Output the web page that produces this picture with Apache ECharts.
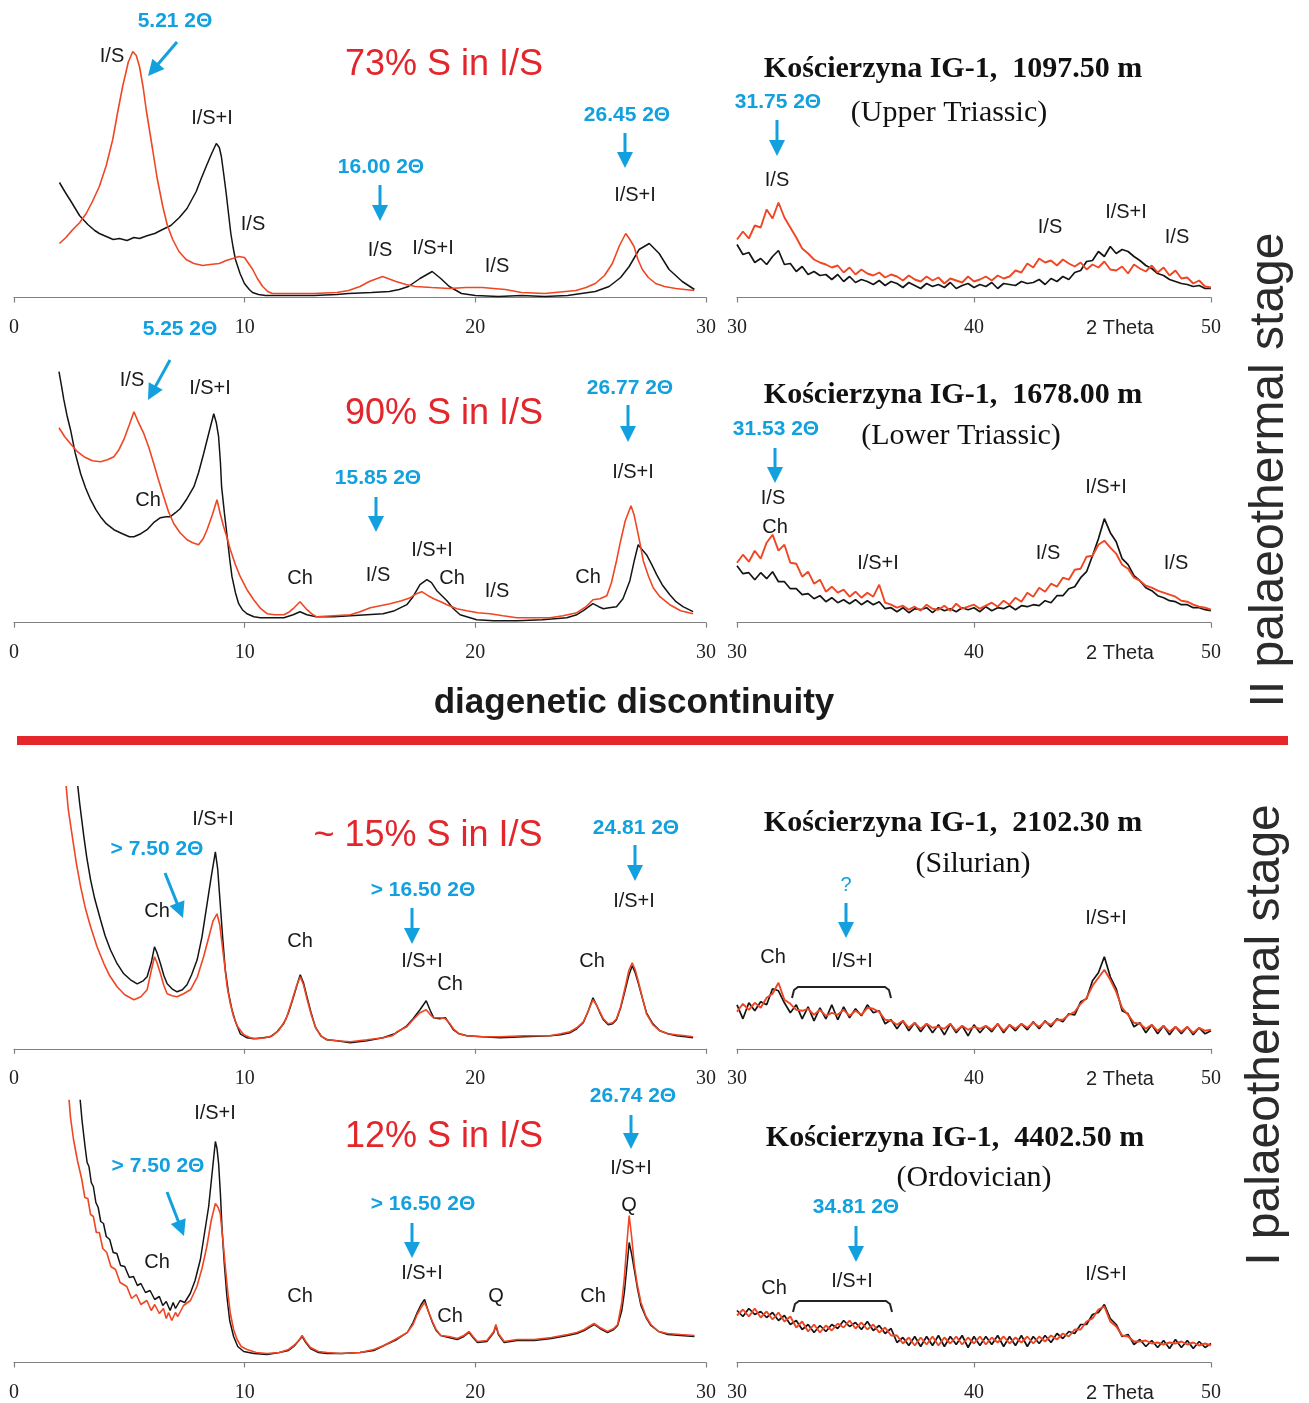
<!DOCTYPE html>
<html>
<head>
<meta charset="utf-8">
<script src="https://cdn.jsdelivr.net/npm/echarts@6/dist/echarts.min.js"></script>
<style>
  html, body { margin: 0; padding: 0; background: #fff; }
  #chart { width: 1309px; height: 1403px; }
</style>
</head>
<body>
<div id="chart"></div>
<script>
// ---- data: intensity (arbitrary units), [2theta, counts] ----
const L1k = [[1.97,115],[2.2,106],[2.5,95],[2.84,82],[3.2,73],[3.5,67],[3.7,64],[4.0,61],[4.3,58],[4.57,59],[4.9,57],[5.2,60],[5.44,59],[5.8,62],[6.1,64],[6.44,68],[6.8,72],[7.17,80],[7.5,89],[7.9,106],[8.1,118],[8.33,131],[8.55,143],[8.77,154],[8.9,150],[8.99,141],[9.1,122],[9.2,104],[9.3,84],[9.4,64],[9.5,50],[9.6,38],[9.8,24],[9.99,14],[10.2,8],[10.34,5],[10.6,3],[10.9,2],[12,2],[13,2],[14,3],[14.5,4],[15.5,5],[16.27,6],[16.7,8],[17.1,11],[17.6,19],[18.13,26],[18.5,19],[18.87,11],[19.4,4],[20,2],[21,1],[22,2],[23,1],[24,2],[24.6,4],[25.2,6],[25.8,11],[26.3,20],[26.67,31],[27.1,48],[27.54,54],[27.97,44],[28.4,28],[28.97,16],[29.5,8]];
const L1r = [[1.97,54],[2.25,60],[2.55,68],[2.85,75],[3.13,84],[3.4,96],[3.7,111],[4.0,132],[4.28,158],[4.5,186],[4.71,211],[4.95,235],[5.15,246],[5.3,242],[5.44,231],[5.6,210],[5.73,188],[5.87,168],[6.01,148],[6.2,120],[6.45,91],[6.65,72],[6.88,58],[7.15,46],[7.46,38],[7.8,34],[8.18,32],[8.5,33],[8.9,34],[9.2,37],[9.48,39],[9.75,41],[9.99,40],[10.2,33],[10.35,28],[10.55,19],[10.78,11],[11.0,6],[11.2,4],[12,4],[13,4],[14,5],[14.5,7],[15.0,11],[15.4,16],[15.98,21],[16.56,16],[17.0,13],[17.4,11],[18.1,10],[18.87,9],[19.6,10],[20.3,10],[20.8,9],[21.3,8],[22.0,5],[23,4],[24.36,7],[24.8,10],[25.2,14],[25.6,22],[25.94,34],[26.25,52],[26.52,64],[26.7,58],[26.88,51],[27.05,38],[27.24,28],[27.5,20],[27.82,14],[28.2,11],[28.69,9],[29.48,7]];

const L2k = [[1.95,251],[2.05,238],[2.16,223],[2.3,207],[2.45,193],[2.65,170],[2.89,149],[3.1,135],[3.32,123],[3.55,113],[3.75,106],[4.0,99],[4.33,93],[4.7,89],[5.0,86],[5.2,86],[5.5,89],[5.77,93],[6.05,100],[6.35,105],[6.6,106],[6.78,106],[7.0,110],[7.2,114],[7.5,124],[7.8,136],[8.0,150],[8.22,169],[8.45,190],[8.66,209],[8.77,200],[8.87,186],[8.95,160],[9.0,136],[9.12,110],[9.24,86],[9.35,64],[9.45,46],[9.6,30],[9.74,19],[9.9,13],[10.1,9],[10.4,6],[10.68,5],[11.2,5],[11.7,5],[12.1,8],[12.4,11],[12.7,8],[13.1,6],[13.85,6],[14.58,7],[15.3,8],[16.0,9],[16.5,12],[17.03,18],[17.3,26],[17.6,38],[17.9,43],[18.1,40],[18.33,32],[18.55,27],[18.77,22],[19.05,14],[19.34,8],[20.06,3],[20.8,2],[21.8,2],[22.9,3],[23.96,5],[24.4,8],[24.68,12],[25.1,19],[25.35,16],[25.55,14],[25.8,15],[26.12,16],[26.4,24],[26.7,42],[26.9,63],[27.06,78],[27.2,74],[27.42,68],[27.65,58],[27.86,48],[28.1,38],[28.43,28],[28.7,21],[29.0,16],[29.44,11]];
const L2r = [[1.95,195],[2.2,186],[2.45,179],[2.75,171],[3.03,166],[3.4,162],[3.75,161],[4.05,163],[4.33,166],[4.55,173],[4.76,183],[5.0,198],[5.2,211],[5.4,200],[5.63,189],[5.85,175],[6.06,159],[6.25,144],[6.49,126],[6.7,111],[6.93,99],[7.2,90],[7.5,83],[7.75,80],[8.0,78],[8.2,84],[8.37,93],[8.6,108],[8.8,123],[8.95,108],[9.09,96],[9.25,84],[9.38,73],[9.6,58],[9.81,46],[10.1,33],[10.39,23],[10.7,14],[10.97,9],[11.3,8],[11.7,8],[11.95,11],[12.1,14],[12.4,21],[12.55,17],[12.7,13],[12.9,9],[13.1,6],[13.85,7],[14.58,8],[15.0,11],[15.45,15],[16.3,19],[16.8,22],[17.18,25],[17.45,29],[17.68,31],[17.95,27],[18.2,24],[18.5,21],[18.77,18],[19.2,14],[19.63,12],[20.1,10],[20.64,9],[21.2,7],[21.8,5],[22.5,5],[23.24,5],[23.8,7],[24.4,10],[24.8,16],[25.1,23],[25.4,24],[25.7,27],[25.9,40],[26.12,62],[26.3,82],[26.5,102],[26.75,117],[26.88,108],[27.0,95],[27.15,78],[27.28,62],[27.5,47],[27.71,35],[28.0,26],[28.43,18],[28.9,12],[29.44,9]];

const L3k = [[2.74,268],[2.85,245],[3.03,212],[3.15,192],[3.32,169],[3.5,150],[3.75,129],[3.95,113],[4.18,99],[4.45,86],[4.76,75],[5.05,69],[5.34,65],[5.6,68],[5.77,72],[5.95,86],[6.09,102],[6.2,96],[6.35,85],[6.5,73],[6.64,65],[6.85,60],[7.07,57],[7.3,59],[7.5,64],[7.7,74],[7.94,89],[8.15,112],[8.37,145],[8.55,172],[8.73,197],[8.83,180],[8.95,142],[9.05,110],[9.16,79],[9.3,56],[9.45,39],[9.6,27],[9.81,15],[10.1,11],[10.39,10],[10.8,11],[11.11,12],[11.4,17],[11.69,25],[11.9,36],[12.12,52],[12.3,66],[12.41,74],[12.55,66],[12.7,52],[12.88,36],[13.06,22],[13.3,13],[13.56,9],[14.0,8],[14.58,6],[15.3,8],[16.0,11],[16.5,15],[17.03,23],[17.3,30],[17.6,39],[17.87,48],[18.05,38],[18.2,31],[18.45,30],[18.7,31],[18.88,25],[19.05,19],[19.3,15],[19.63,13],[20.3,12],[21.07,11],[22.1,12],[23.24,13],[23.7,14],[24.1,16],[24.4,20],[24.68,26],[24.9,38],[25.1,51],[25.25,44],[25.4,36],[25.55,29],[25.76,24],[25.95,25],[26.12,29],[26.3,41],[26.5,59],[26.65,73],[26.8,83],[26.93,76],[27.06,66],[27.25,50],[27.42,36],[27.7,25],[28.0,18],[28.35,15],[28.72,13],[29.1,12],[29.44,11]];
const L3r = [[2.24,268],[2.35,240],[2.53,212],[2.7,186],[2.89,162],[3.1,140],[3.32,122],[3.6,102],[3.9,85],[4.15,73],[4.47,62],[4.8,54],[5.2,49],[5.5,52],[5.77,59],[5.95,78],[6.09,92],[6.2,86],[6.35,75],[6.5,63],[6.64,55],[6.85,53],[7.07,52],[7.35,55],[7.65,59],[7.95,72],[8.22,92],[8.45,112],[8.63,128],[8.8,135],[8.92,124],[9.02,105],[9.13,84],[9.24,62],[9.38,45],[9.52,32],[9.7,22],[9.96,14],[10.25,11],[10.53,10],[10.9,11],[11.2,13],[11.5,19],[11.8,30],[12.05,48],[12.25,63],[12.41,72],[12.55,64],[12.7,50],[12.9,33],[13.1,20],[13.35,12],[13.6,9],[14.0,8],[14.58,7],[15.3,9],[16.0,11],[16.4,13],[16.6,17],[17.03,22],[17.3,29],[17.6,36],[17.87,39],[18.05,34],[18.2,31],[18.45,31],[18.7,30],[18.9,25],[19.05,20],[19.3,15],[19.63,13],[20.3,12],[21.07,12],[22.1,13],[23.24,13],[23.7,15],[24.1,17],[24.4,21],[24.68,27],[24.9,38],[25.1,49],[25.25,44],[25.4,37],[25.55,30],[25.76,25],[25.95,26],[26.12,30],[26.3,42],[26.5,62],[26.65,78],[26.8,86],[26.93,79],[27.06,68],[27.25,50],[27.42,35],[27.7,24],[28.0,18],[28.35,15],[28.72,14],[29.1,13],[29.44,12]];

const L4k = [[2.84,270],[2.95,242],[3.08,216],[3.17,200],[3.25,196],[3.35,180],[3.44,176],[3.55,160],[3.65,155],[3.76,141],[3.88,139],[4.0,126],[4.15,123],[4.3,110],[4.46,109],[4.62,97],[4.8,96],[5.0,85],[5.18,86],[5.35,77],[5.5,79],[5.7,70],[5.9,72],[6.1,63],[6.3,66],[6.45,57],[6.6,61],[6.77,52],[6.9,60],[7.0,54],[7.2,62],[7.4,60],[7.64,69],[7.85,82],[8.08,103],[8.25,128],[8.44,156],[8.6,192],[8.73,221],[8.8,214],[8.87,199],[8.95,168],[9.02,133],[9.12,98],[9.23,66],[9.35,42],[9.52,26],[9.7,16],[9.96,11],[10.4,9],[10.97,8],[11.5,10],[11.9,12],[12.13,16],[12.35,22],[12.49,26],[12.65,20],[12.85,14],[13.2,10],[13.57,9],[14.2,9],[15.0,10],[15.6,12],[16.04,17],[16.6,23],[17.05,30],[17.3,40],[17.48,50],[17.65,58],[17.8,63],[17.95,52],[18.14,40],[18.3,32],[18.5,27],[18.85,25],[19.22,23],[19.5,26],[19.73,30],[19.9,25],[20.09,20],[20.5,21],[20.8,30],[20.89,37],[21.0,28],[21.25,20],[21.8,22],[22.55,22],[23.3,24],[24.0,27],[24.4,29],[24.72,32],[25.0,36],[25.15,38],[25.4,34],[25.73,30],[26.0,33],[26.17,37],[26.35,52],[26.46,70],[26.58,98],[26.67,120],[26.78,108],[26.89,93],[27.02,75],[27.18,57],[27.4,45],[27.61,37],[27.95,31],[28.34,28],[28.9,27],[29.5,26]];
const L4r = [[2.36,270],[2.45,245],[2.58,223],[2.75,202],[2.94,183],[3.07,165],[3.2,164],[3.32,148],[3.44,146],[3.57,130],[3.7,130],[3.85,114],[4.02,110],[4.2,96],[4.4,93],[4.6,80],[4.89,76],[5.1,64],[5.3,68],[5.5,58],[5.76,62],[5.95,52],[6.1,58],[6.3,49],[6.48,54],[6.6,44],[6.7,50],[6.84,42],[7.0,50],[7.1,46],[7.35,57],[7.65,62],[7.93,76],[8.15,94],[8.36,116],[8.55,142],[8.73,159],[8.85,155],[8.94,149],[9.05,124],[9.16,96],[9.27,70],[9.38,49],[9.52,33],[9.67,23],[9.85,16],[10.1,13],[10.5,10],[10.97,9],[11.5,10],[11.9,13],[12.13,17],[12.35,22],[12.49,27],[12.65,21],[12.85,15],[13.2,11],[13.57,10],[14.2,9],[15.0,10],[15.6,13],[16.04,17],[16.6,24],[17.05,30],[17.3,38],[17.48,48],[17.65,55],[17.8,60],[17.95,52],[18.14,41],[18.3,33],[18.5,27],[18.85,26],[19.22,24],[19.5,27],[19.73,31],[19.9,26],[20.09,21],[20.5,22],[20.8,31],[20.89,38],[21.0,29],[21.25,21],[21.8,23],[22.55,23],[23.3,25],[24.0,28],[24.4,30],[24.72,33],[25.0,37],[25.15,39],[25.4,35],[25.73,31],[26.0,34],[26.17,38],[26.35,60],[26.46,85],[26.58,122],[26.67,147],[26.78,125],[26.89,98],[27.02,78],[27.18,60],[27.4,46],[27.61,38],[27.95,31],[28.34,29],[28.9,28],[29.5,27]];

// right panels (30-50 deg), one value per 0.25 deg
const thetaR = [30,30.25,30.5,30.75,31,31.25,31.5,31.75,32,32.25,32.5,32.75,33,33.25,33.5,33.75,34,34.25,34.5,34.75,35,35.25,35.5,35.75,36,36.25,36.5,36.75,37,37.25,37.5,37.75,38,38.25,38.5,38.75,39,39.25,39.5,39.75,40,40.25,40.5,40.75,41,41.25,41.5,41.75,42,42.25,42.5,42.75,43,43.25,43.5,43.75,44,44.25,44.5,44.75,45,45.25,45.5,45.75,46,46.25,46.5,46.75,47,47.25,47.5,47.75,48,48.25,48.5,48.75,49,49.25,49.5,49.75,50];
const R1r = [58,66,59,72,70,88,79,95,80,70,60,49,44,38,35,33,30,32,25,30,23,28,24,22,25,20,23,21,17,22,18,16,21,17,20,14,19,17,15,21,16,18,21,17,22,19,21,27,25,34,30,39,35,37,32,38,34,31,35,28,33,30,36,28,27,31,24,33,29,26,32,25,30,22,27,19,20,14,17,11,10];
const R1k = [53,43,45,35,39,33,41,47,33,34,26,31,23,26,22,23,18,23,16,21,15,18,16,13,17,12,16,14,10,15,12,9,14,11,13,10,15,9,12,14,10,13,11,15,9,14,13,12,16,14,15,18,13,19,16,21,18,25,27,36,37,46,41,51,44,48,46,41,37,32,29,24,22,18,16,14,13,11,12,9,9];
const R2r = [60,68,61,72,64,80,88,72,78,60,59,46,51,39,43,31,36,30,33,26,31,25,30,26,38,20,18,15,17,13,16,12,18,14,13,17,12,19,14,16,18,14,17,20,16,22,18,25,21,30,26,35,31,39,36,45,43,53,54,66,67,78,82,75,69,58,54,45,42,37,35,32,30,28,26,22,21,18,16,15,13];
const R2k = [57,49,50,43,50,44,51,41,41,34,34,28,29,24,27,21,25,20,23,19,23,18,22,18,21,14,15,11,15,10,14,13,15,10,15,12,14,11,15,13,15,11,16,12,15,14,17,13,17,16,18,17,22,20,27,27,34,36,45,51,67,84,104,90,81,64,58,47,42,35,32,27,25,22,21,18,18,15,15,13,12];
const R3r = [37,45,39,46,41,51,55,66,49,45,39,38,40,34,39,33,36,34,39,33,38,34,41,40,37,29,28,24,28,21,26,20,25,21,22,20,25,18,23,19,22,20,23,19,25,18,24,20,25,21,26,22,27,24,29,29,34,37,45,51,63,71,79,69,57,41,34,26,25,20,24,18,23,17,22,17,22,16,21,18,19];
const R3k = [44,30,46,38,47,44,60,58,46,36,44,30,42,28,41,30,44,29,42,31,40,33,44,36,38,25,29,20,28,18,26,17,25,16,24,14,25,16,23,13,24,16,23,17,25,16,24,18,25,19,27,20,28,22,30,27,35,34,47,50,68,76,92,72,60,38,35,22,26,16,24,15,23,14,22,15,22,14,21,15,18];
const R4r = [47,53,46,54,45,51,43,50,41,46,35,41,31,38,30,37,32,39,35,42,34,40,33,38,30,35,27,27,19,25,17,25,18,26,17,25,19,26,18,25,19,26,18,25,20,26,19,25,20,26,19,26,21,27,23,29,26,33,33,41,44,53,56,41,36,27,26,21,21,22,19,20,18,20,19,21,18,20,17,19,17];
const R4k = [52,46,54,48,51,45,50,42,47,38,42,33,38,30,37,31,38,34,42,36,40,33,41,32,37,29,34,20,25,17,26,16,26,17,27,16,26,18,27,15,26,17,26,18,27,16,26,17,27,16,26,19,27,20,29,24,31,29,38,38,48,50,58,44,38,26,28,18,23,16,22,15,22,14,23,15,22,14,21,15,19];

const leftTicks = ['0', '10', '20', '30'];
const rightTicks = ['30', '40', '50'];

// ---- layout ----
const rowBase = [297.5, 622.7, 1048.8, 1362.5];
const plotH = 262;
const BLUE = '#12a0de';
const RED = '#ef4623';
const BLACK = '#141414';
const AXIS = '#808080';

const leftData = [[L1k, L1r], [L2k, L2r], [L3k, L3r], [L4k, L4r]];
const rightData = [[R1k, R1r], [R2k, R2r], [R3k, R3r], [R4k, R4r]];

const grids = [], xAxes = [], yAxes = [], series = [];

const axisCommon = {
  type: 'value',
  interval: 10,
  axisLine: { show: true, lineStyle: { color: AXIS, width: 1.2 } },
  axisTick: { show: true, length: 5, lineStyle: { color: AXIS, width: 1.2 } },
  splitLine: { show: false },
  axisLabel: { fontFamily: '"Liberation Serif", "Times New Roman", serif', fontSize: 20, color: '#222', margin: 20 }
};

rowBase.forEach((base, r) => {
  const top = base - plotH;
  grids.push({ left: 14, top: top, width: 692, height: plotH });
  grids.push({ left: 737, top: top, width: 474, height: plotH });

  const gl = 2 * r, gr = 2 * r + 1;
  xAxes.push(Object.assign({}, axisCommon, {
    gridIndex: gl, min: 0, max: 30,
    axisLabel: Object.assign({}, axisCommon.axisLabel, {
      formatter: v => leftTicks[Math.round(v / 10)] || ''
    })
  }));
  xAxes.push(Object.assign({}, axisCommon, {
    gridIndex: gr, min: 30, max: 50,
    axisLabel: Object.assign({}, axisCommon.axisLabel, {
      formatter: v => rightTicks[Math.round((v - 30) / 10)] || ''
    })
  }));
  yAxes.push({ type: 'value', gridIndex: gl, min: 0, max: plotH, show: false });
  yAxes.push({ type: 'value', gridIndex: gr, min: 0, max: plotH, show: false });

  const line = (idx, data, color, w) => ({
    type: 'line', xAxisIndex: idx, yAxisIndex: idx, data: data,
    showSymbol: false, symbol: 'none', clip: true, animation: false,
    lineStyle: { color: color, width: w }, z: color === RED ? 3 : 2
  });
  series.push(line(gl, leftData[r][0], BLACK, 1.5));
  series.push(line(gl, leftData[r][1], RED, 1.6));
  const zip = vals => thetaR.map((t, i) => [t, vals[i]]);
  series.push(line(gr, zip(rightData[r][0]), BLACK, 1.7));
  series.push(line(gr, zip(rightData[r][1]), RED, 1.9));
});

// ---- annotations ----
const SANS = '"Liberation Sans", Arial, sans-serif';
const SERIF = '"Liberation Serif", "Times New Roman", serif';

function txt(x, y, s, font, fill, extra) {
  return Object.assign({
    type: 'text', x: x, y: y, z: 10,
    style: {
      text: s, font: font, fill: fill,
      align: 'center', verticalAlign: 'middle',
      textAlign: 'center', textVerticalAlign: 'middle'
    }
  }, extra || {});
}

function arrow(x1, y1, x2, y2) {
  const dx = x2 - x1, dy = y2 - y1;
  const len = Math.sqrt(dx * dx + dy * dy);
  const ux = dx / len, uy = dy / len;
  const hl = 16, hw = 8;
  const bx = x2 - ux * hl, by = y2 - uy * hl;
  return [
    { type: 'line', z: 10, shape: { x1: x1, y1: y1, x2: bx + ux, y2: by + uy },
      style: { stroke: BLUE, lineWidth: 3 } },
    { type: 'polygon', z: 10,
      shape: { points: [[x2, y2], [bx - uy * hw, by + ux * hw], [bx + uy * hw, by - ux * hw]] },
      style: { fill: BLUE } }
  ];
}

function bracket(x1, x2, y, h) {
  return {
    type: 'polyline', z: 10,
    shape: { points: [[x1, y + h], [x1 + 2, y + 3], [x1 + 6, y], [x2 - 6, y], [x2 - 2, y + 3], [x2, y + h]] },
    style: { stroke: '#222', lineWidth: 2, fill: null }
  };
}

const blueFont = 'bold 21px ' + SANS;
const labFont = '20px ' + SANS;
const redFont = '36px ' + SANS;
const titleFont = 'bold 30px ' + SERIF;
const subFont = '30px ' + SERIF;

const blueLabels = [
  [175, 21, '5.21 2Θ'], [381, 167, '16.00 2Θ'], [627, 115, '26.45 2Θ'], [778, 102, '31.75 2Θ'],
  [180, 329, '5.25 2Θ'], [378, 478, '15.85 2Θ'], [630, 388, '26.77 2Θ'], [776, 429, '31.53 2Θ'],
  [157, 849, '> 7.50 2Θ'], [423, 890, '> 16.50 2Θ'], [636, 828, '24.81 2Θ'],
  [158, 1166, '> 7.50 2Θ'], [423, 1204, '> 16.50 2Θ'], [633, 1096, '26.74 2Θ'], [856, 1207, '34.81 2Θ']
];
const phaseLabels = [
  [112, 56, 'I/S'], [212, 118, 'I/S+I'], [253, 224, 'I/S'], [380, 250, 'I/S'], [433, 248, 'I/S+I'],
  [497, 266, 'I/S'], [635, 195, 'I/S+I'], [777, 180, 'I/S'], [1050, 227, 'I/S'], [1126, 212, 'I/S+I'], [1177, 237, 'I/S'],
  [132, 380, 'I/S'], [210, 388, 'I/S+I'], [148, 500, 'Ch'], [300, 578, 'Ch'], [378, 575, 'I/S'], [432, 550, 'I/S+I'],
  [452, 578, 'Ch'], [497, 591, 'I/S'], [588, 577, 'Ch'], [633, 472, 'I/S+I'],
  [773, 498, 'I/S'], [775, 527, 'Ch'], [878, 563, 'I/S+I'], [1048, 553, 'I/S'], [1106, 487, 'I/S+I'], [1176, 563, 'I/S'],
  [213, 819, 'I/S+I'], [157, 911, 'Ch'], [300, 941, 'Ch'], [422, 961, 'I/S+I'], [450, 984, 'Ch'], [592, 961, 'Ch'], [634, 901, 'I/S+I'],
  [773, 957, 'Ch'], [852, 961, 'I/S+I'], [1106, 918, 'I/S+I'],
  [215, 1113, 'I/S+I'], [157, 1262, 'Ch'], [300, 1296, 'Ch'], [422, 1273, 'I/S+I'], [450, 1316, 'Ch'], [496, 1296, 'Q'],
  [593, 1296, 'Ch'], [631, 1168, 'I/S+I'], [629, 1205, 'Q'],
  [774, 1288, 'Ch'], [852, 1281, 'I/S+I'], [1106, 1274, 'I/S+I']
];
const arrows = [
  [177, 42, 148, 76], [380, 185, 380, 221], [625, 133, 625, 168], [777, 120, 777, 156],
  [170, 360, 148, 400], [376, 497, 376, 532], [628, 405, 628, 442], [775, 448, 775, 483],
  [165, 873, 183, 918], [412, 908, 412, 944], [635, 845, 635, 881], [846, 903, 846, 938],
  [167, 1192, 184, 1236], [412, 1223, 412, 1258], [631, 1115, 631, 1149], [856, 1226, 856, 1262]
];
const pctLabels = [[444, 65, '73% S in I/S'], [444, 414, '90% S in I/S'], [428, 836, '~ 15% S in I/S'], [444, 1137, '12% S in I/S']];
const titles = [
  [953, 69, 'Kościerzyna IG-1,  1097.50 m', 949, 113, '(Upper Triassic)'],
  [953, 395, 'Kościerzyna IG-1,  1678.00 m', 961, 436, '(Lower Triassic)'],
  [953, 823, 'Kościerzyna IG-1,  2102.30 m', 973, 864, '(Silurian)'],
  [955, 1138, 'Kościerzyna IG-1,  4402.50 m', 974, 1178, '(Ordovician)']
];

const graphics = [];
blueLabels.forEach(b => graphics.push(txt(b[0], b[1], b[2], blueFont, BLUE)));
graphics.push(txt(846, 885, '?', '20px ' + SANS, BLUE));
phaseLabels.forEach(p => graphics.push(txt(p[0], p[1], p[2], labFont, '#1a1a1a')));
arrows.forEach(a => arrow(a[0], a[1], a[2], a[3]).forEach(g => graphics.push(g)));
pctLabels.forEach(p => graphics.push(txt(p[0], p[1], p[2], redFont, '#e3262b')));
titles.forEach(t => {
  graphics.push(txt(t[0], t[1], t[2], titleFont, '#111'));
  graphics.push(txt(t[3], t[4], t[5], subFont, '#111'));
});
rowBase.forEach(b => graphics.push(txt(1120, b + 31, '2 Theta', '20px ' + SANS, '#222')));
graphics.push(bracket(792, 891, 987, 11));
graphics.push(bracket(793, 892, 1301, 11));

// divider
graphics.push(txt(634, 703, 'diagenetic discontinuity', 'bold 35px ' + SANS, '#1a1a1a'));
graphics.push({ type: 'rect', z: 10, shape: { x: 17, y: 736, width: 1271, height: 9 }, style: { fill: '#e5262a' } });

// stage labels (vertical)
graphics.push(txt(1270, 470, 'II palaeothermal stage', '48px ' + SANS, '#2b2b2b', { rotation: Math.PI / 2 }));
graphics.push(txt(1266, 1035, 'I palaeothermal stage', '48px ' + SANS, '#2b2b2b', { rotation: Math.PI / 2 }));

const chart = echarts.init(document.getElementById('chart'));
chart.setOption({
  animation: false,
  backgroundColor: '#fff',
  grid: grids,
  xAxis: xAxes,
  yAxis: yAxes,
  series: series,
  graphic: { elements: graphics }
});
</script>
</body>
</html>
